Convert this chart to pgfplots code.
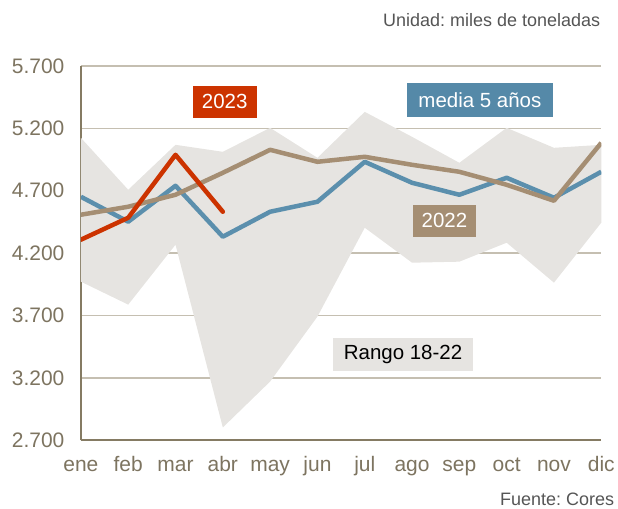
\documentclass[border=0pt]{standalone}
\usepackage{fontspec}
\setmainfont{Liberation Sans}
\usepackage{pgfplots}
\pgfplotsset{compat=1.18}
\usepgfplotslibrary{fillbetween}
\frenchspacing
\definecolor{cred}{HTML}{CC3300}
\definecolor{cblue}{HTML}{5B8FAD}
\definecolor{cblueb}{HTML}{5589A8}
\definecolor{cbrown}{HTML}{A58E73}
\definecolor{cband}{HTML}{E6E4E1}
\definecolor{cgrid}{HTML}{C5BFB1}
\definecolor{caxis}{HTML}{857B63}
\definecolor{ctick}{HTML}{7D7460}
\definecolor{cunit}{HTML}{555555}
\begin{document}
\begin{tikzpicture}
\begin{axis}[
  at={(81pt,68pt)}, anchor=south west,
  scale only axis, width=521pt, height=375pt,
  xmin=0, xmax=11, ymin=2700, ymax=5700,
  xtick={0,...,11},
  xticklabels={ene,feb,mar,abr,may,jun,jul,ago,sep,oct,nov,dic},
  ytick={2700,3200,...,5700},
  ymajorgrids, grid style={cgrid, line width=1.5pt},
  axis x line*=bottom, axis y line*=left,
  axis line style={caxis, line width=2pt},
  major tick length=0pt,
  scaled y ticks=false,
  /pgf/number format/1000 sep={.},
  /pgf/number format/assume math mode=true,
  yticklabel style={font=\fontsize{21}{24}\selectfont, text=ctick, xshift=-13pt},
  xticklabel style={font=\fontsize{21}{24}\selectfont, text=ctick, text height=15pt, text depth=4pt, yshift=-13pt},
]
\addplot[name path=up, draw=none] coordinates {(0,5124) (1,4708) (2,5068) (3,5012) (4,5204) (5,4964) (6,5332) (7,5132) (8,4924) (9,5204) (10,5044) (11,5068)};
\addplot[name path=lo, draw=none] coordinates {(0,3972) (1,3788) (2,4268) (3,2804) (4,3172) (5,3692) (6,4404) (7,4124) (8,4132) (9,4284) (10,3964) (11,4444)};
\addplot[fill=cband, draw=none] fill between[of=up and lo];
% media 5 anos
\addplot[cblue, line width=4.5pt, line join=round] coordinates {(0,4652) (1,4452) (2,4740) (3,4332) (4,4532) (5,4612) (6,4932) (7,4764) (8,4668) (9,4804) (10,4644) (11,4852)};
% 2022
\addplot[cbrown, line width=4.5pt, line join=round] coordinates {(0,4508) (1,4572) (2,4668) (3,4844) (4,5028) (5,4932) (6,4972) (7,4908) (8,4852) (9,4748) (10,4620) (11,5084)};
% 2023
\addplot[cred, line width=4.5pt, line join=round, line cap=round] coordinates {(0,4308) (1,4484) (2,4988) (3,4532)};
\node[fill=cred, text=white, font=\fontsize{20.5}{23}\selectfont, minimum width=64pt, minimum height=32pt, inner sep=0pt] at (axis cs:3.04,5412) {2023};
\node[fill=cblueb, text=white, font=\fontsize{20.5}{23}\selectfont, minimum width=147pt, minimum height=34pt, inner sep=0pt] at (axis cs:8.435,5428) {media 5 años};
\node[fill=cbrown, text=white, font=\fontsize{20.5}{23}\selectfont, minimum width=64pt, minimum height=32pt, inner sep=0pt] at (axis cs:7.686,4460) {2022};
\node[fill=cband, text=black, font=\fontsize{20.5}{23}\selectfont, minimum width=141pt, minimum height=33pt, inner sep=0pt] at (axis cs:6.81,3392) {Rango 18-22};
\end{axis}
\node[anchor=base east, text=cunit, font=\fontsize{18}{21}\selectfont, inner sep=0pt] at (601pt,482pt) {Unidad: miles de toneladas};
\node[anchor=base east, text=cunit, font=\fontsize{18}{21}\selectfont, inner sep=0pt] at (615pt,3pt) {Fuente: Cores};
\path (0pt,0pt) (618pt,509pt);
\end{tikzpicture}
\end{document}
